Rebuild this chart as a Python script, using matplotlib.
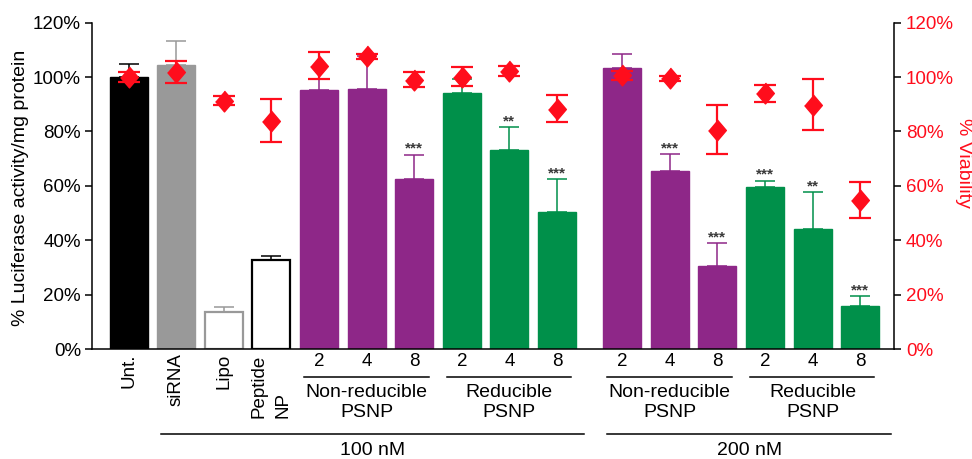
import numpy as np
import matplotlib
matplotlib.use("Agg")
import matplotlib.pyplot as plt
from matplotlib.ticker import PercentFormatter

plt.rcParams['font.family'] = ['Liberation Sans', 'DejaVu Sans']

# datos
labels = ["Unt.", "siRNA", "Lipo", "Peptide\nNP",
          "2", "4", "8", "2", "4", "8",
          "2", "4", "8", "2", "4", "8"]
luciferase = [100.2, 104.5, 13.7, 32.9, 95.2, 95.6, 62.6, 94.2, 73.2, 50.5,
              103.2, 65.6, 30.4, 59.5, 44.2, 15.9]
luciferase_err = [4.7, 8.8, 1.6, 1.3, 13.9, 12.0, 8.8, 5.2, 8.3, 11.9,
                  5.2, 6.0, 8.5, 2.4, 13.5, 3.5]
viability = [100.0, 102.0, 91.3, 83.9, 104.2, 107.6, 99.0, 100.2, 102.1, 88.4,
             100.6, 99.5, 80.6, 94.0, 89.9, 54.8]
viability_err = [1.8, 4.0, 1.7, 7.9, 5.0, 1.0, 2.7, 3.6, 1.8, 5.0,
                 1.5, 1.0, 9.0, 3.0, 9.4, 6.5]
stars = ["", "", "", "", "", "", "***", "", "**", "***",
         "", "***", "***", "***", "**", "***"]

subgroups = [("Non-reducible\nPSNP", 4, 6), ("Reducible\nPSNP", 7, 9),
             ("Non-reducible\nPSNP", 10, 12), ("Reducible\nPSNP", 13, 15)]
dose_groups = [("100 nM", 1, 9), ("200 nM", 10, 15)]

PURPLE = '#8E2788'
GREEN = '#00904A'
RED = '#FF0D1C'

fill = ['black', '#999999', 'white', 'white'] + [PURPLE] * 3 + [GREEN] * 3 + [PURPLE] * 3 + [GREEN] * 3
edge = ['black', '#999999', '#999999', 'black'] + [PURPLE] * 3 + [GREEN] * 3 + [PURPLE] * 3 + [GREEN] * 3
edge_w = [1.0, 1.0, 1.6, 1.6] + [1.0] * 12

gap = 0.37
x = np.arange(len(labels)) + gap * (np.arange(len(labels)) >= 10)

fig = plt.figure(figsize=(9.72, 4.59), dpi=100)
ax = fig.add_axes([92 / 972, 110 / 459, 802 / 972, 326.3 / 459])

ax.bar(x, luciferase, width=0.8, color=fill, edgecolor=edge, linewidth=edge_w, zorder=2)
for i in range(len(x)):
    ax.errorbar(x[i], luciferase[i], yerr=[[0], [luciferase_err[i]]], color=edge[i],
                elinewidth=1.1, capsize=7, capthick=1.1, zorder=3)
    if stars[i]:
        ax.annotate(stars[i], (x[i], luciferase[i] + luciferase_err[i]), xytext=(0, 1.5),
                    textcoords='offset points', ha='center', va='baseline',
                    fontsize=11, fontweight='bold', color='#3a3a3a')

ax.set_xlim(-0.77, x[-1] + 0.71)
ax.set_ylim(0, 120)
ax.set_yticks(np.arange(0, 121, 20))
ax.yaxis.set_major_formatter(PercentFormatter(decimals=0))
ax.tick_params(axis='y', labelsize=13.5, width=1.1, length=5, pad=3)

# las 4 primeras etiquetas van giradas, se dibujan aparte
ax.set_xticks(x, [""] * 4 + labels[4:])
ax.tick_params(axis='x', labelsize=13.5, length=0, pad=3)
tr = ax.get_xaxis_transform()
for i in range(3):
    ax.text(x[i], -0.014, labels[i], transform=tr, rotation=90, ha='center', va='top',
            fontsize=13.5)
# Peptide / NP: las dos lineas empiezan abajo
lineas = labels[3].split("\n")
for k, txt in enumerate(lineas):
    ax.text(x[3] - 0.26 + 0.5 * k, -0.2115, txt, transform=tr, rotation=90,
            rotation_mode='anchor', ha='left', va='center', fontsize=13.5)

for s in ['top', 'right']:
    ax.spines[s].set_visible(False)
for s in ['left', 'bottom']:
    ax.spines[s].set_linewidth(1.1)

# eje derecho: viabilidad
ax2 = ax.twinx()
diamond = [(0, 1), (0.85, 0), (0, -1), (-0.85, 0)]
ax2.errorbar(x, viability, yerr=viability_err, fmt='none', ecolor=RED,
             elinewidth=1.6, capsize=8, capthick=1.6)
ax2.plot(x, viability, linestyle='none', marker=diamond, markersize=15, color=RED)
ax2.set_ylim(0, 120)
ax2.set_yticks(np.arange(0, 121, 20))
ax2.yaxis.set_major_formatter(PercentFormatter(decimals=0))
ax2.tick_params(axis='y', labelsize=13.5, width=1.1, length=5, pad=3.6, labelcolor=RED)
for s in ['top', 'left', 'bottom']:
    ax2.spines[s].set_visible(False)
ax2.spines['right'].set_linewidth(1.1)

# lineas y textos de grupos bajo el eje
for name, a, b in subgroups:
    ax.plot([x[a] - 0.32, x[b] + 0.3], [-0.0843, -0.0843], color='black', lw=1.1,
            transform=tr, clip_on=False)
    ax.text((x[a] + x[b]) / 2, -0.107, name, transform=tr, ha='center', va='top',
            fontsize=14, linespacing=1.2)
for name, a, b in dose_groups:
    x0 = x[a] - 0.32
    x1 = x[b] + 0.65 if b == len(x) - 1 else x[b] + 0.57
    ax.plot([x0, x1], [-0.2605, -0.2605], color='black', lw=1.1,
            transform=tr, clip_on=False)
    ax.text((x0 + x1) / 2, -0.285, name, transform=tr, ha='center', va='top', fontsize=14)

fig.text(20.7 / 972, 1 - 187.5 / 459, "% Luciferase activity/mg protein", rotation=90,
         ha='center', va='center', fontsize=14)
fig.text(963 / 972, 1 - 163 / 459, "% Viability", rotation=-90, color=RED,
         ha='center', va='center', fontsize=14)

fig.savefig("out.png", dpi=100)
